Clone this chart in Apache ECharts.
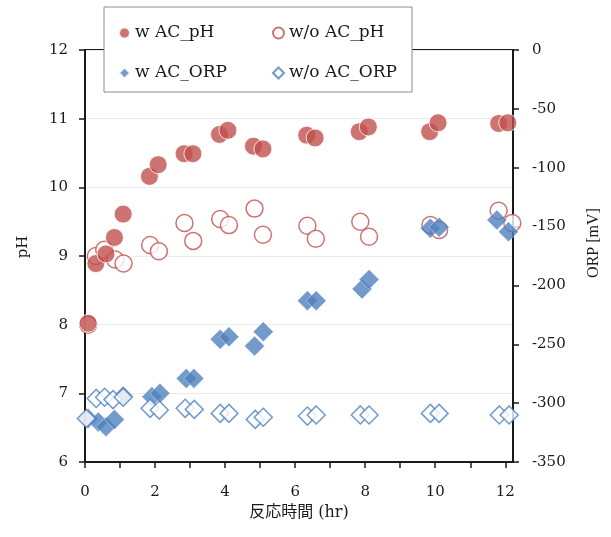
<!DOCTYPE html>
<html>
<head>
<meta charset="utf-8">
<script src="https://cdn.jsdelivr.net/npm/echarts@6/dist/echarts.min.js"></script>
<style>
  html, body { margin: 0; padding: 0; background: #fff; }
  #chart { width: 611px; height: 537px; }
</style>
</head>
<body>
<div id="chart"></div>
<script>
const timeWpH = [0.09, 0.31, 0.6, 0.84, 1.09, 1.84, 2.09, 2.83, 3.08, 3.84, 4.08, 4.81, 5.08, 6.33, 6.57, 7.83, 8.09, 9.84, 10.08, 11.81, 12.07];
const phW = [8.02, 8.89, 9.03, 9.27, 9.61, 10.16, 10.33, 10.49, 10.49, 10.77, 10.83, 10.6, 10.56, 10.76, 10.72, 10.81, 10.88, 10.81, 10.94, 10.93, 10.94];

const timeWopH = [0.09, 0.31, 0.55, 0.86, 1.1, 1.86, 2.11, 2.84, 3.09, 3.86, 4.11, 4.84, 5.08, 6.35, 6.59, 7.86, 8.11, 9.86, 10.11, 11.81, 12.2];
const phWo = [8.0, 9.0, 9.09, 8.95, 8.89, 9.16, 9.07, 9.48, 9.22, 9.54, 9.45, 9.69, 9.31, 9.44, 9.25, 9.5, 9.28, 9.45, 9.38, 9.66, 9.48];

const timeWORP = [0.09, 0.38, 0.6, 0.84, 1.09, 1.91, 2.14, 2.89, 3.11, 3.86, 4.11, 4.84, 5.09, 6.35, 6.6, 7.91, 8.11, 9.86, 10.11, 11.76, 12.09];
const orpW = [-313, -316, -320, -314, -294, -294.5, -291.7, -279, -279, -245.8, -243.6, -251.5, -239.3, -213, -213, -203, -195, -151.5, -150.6, -144.4, -154.4];

const timeWoORP = [0.04, 0.32, 0.56, 0.8, 1.09, 1.86, 2.12, 2.86, 3.12, 3.86, 4.11, 4.86, 5.09, 6.35, 6.6, 7.86, 8.11, 9.86, 10.11, 11.83, 12.11];
const orpWo = [-313, -296, -295, -297, -295, -304.4, -305.9, -304.4, -305.3, -308.7, -308.7, -313.8, -312, -311, -310, -310, -310, -308.7, -308.7, -310, -310];

const xTicks = [0, 1, 2, 3, 4, 5, 6, 7, 8, 9, 10, 11, 12];
const xLabels = [0, 2, 4, 6, 8, 10, 12];
const seriesNames = ["w AC_pH", "w/o AC_pH", "w AC_ORP", "w/o AC_ORP"];

const RED = "#C0504D";
const BLUE = "#4F81BD";
const FONT = "DejaVu Serif";

const zip = (xs, ys) => xs.map((x, i) => [x, ys[i]]);

const myChart = echarts.init(document.getElementById("chart"));
const option = {
  animation: false,
  backgroundColor: "#fff",
  textStyle: { fontFamily: FONT, color: "#1a1a1a" },
  grid: {
    left: 85, right: 98, top: 50, bottom: 75,
    show: true, borderColor: "#1a1a1a", borderWidth: 2
  },
  legend: {
    data: seriesNames,
    left: 104, top: 7,
    width: 292,
    padding: [15, 4, 8, 14],
    itemGap: 18,
    itemWidth: 11, itemHeight: 11,
    backgroundColor: "#fff",
    borderColor: "#8c8c8c", borderWidth: 1,
    textStyle: { fontFamily: FONT, fontSize: 17, color: "#1a1a1a", width: 119, height: 22, lineHeight: 22 }
  },
  xAxis: {
    type: "value",
    min: 0, max: 12.22,
    name: "反応時間 (hr)",
    nameLocation: "middle",
    nameGap: 40,
    nameTextStyle: { fontFamily: FONT + ", Noto Sans CJK JP", fontSize: 16, color: "#1a1a1a" },
    axisLine: { onZero: false, lineStyle: { color: "#1a1a1a", width: 2 } },
    axisTick: { show: true, length: 6, customValues: xTicks, lineStyle: { color: "#1a1a1a", width: 1.5 } },
    axisLabel: { customValues: xLabels, margin: 23, fontSize: 15, color: "#1a1a1a", fontFamily: FONT },
    splitLine: { show: false }
  },
  yAxis: [
    {
      type: "value",
      min: 6, max: 12, interval: 1,
      name: "pH",
      nameLocation: "middle",
      nameGap: 54,
      nameTextStyle: { fontFamily: FONT, fontSize: 15, color: "#1a1a1a", padding: [0, 0, 0, 18] },
      axisLine: { show: true, lineStyle: { color: "#1a1a1a", width: 2 } },
      axisTick: { show: true, length: 6, lineStyle: { color: "#1a1a1a", width: 1.5 } },
      axisLabel: { margin: 17, fontSize: 15, color: "#1a1a1a", fontFamily: FONT },
      splitLine: { show: true, lineStyle: { color: "#ebebeb", width: 1 } }
    },
    {
      type: "value",
      min: -350, max: 0, interval: 50,
      name: "ORP [mV]",
      nameLocation: "middle",
      nameGap: 73,
      nameTextStyle: { fontFamily: "Liberation Serif", fontSize: 16, color: "#1a1a1a", padding: [0, 0, 0, 26] },
      axisLine: { show: true, lineStyle: { color: "#1a1a1a", width: 2 } },
      axisTick: { show: true, length: 6, lineStyle: { color: "#1a1a1a", width: 1.5 } },
      axisLabel: { margin: 19, fontSize: 15, color: "#1a1a1a", fontFamily: FONT },
      splitLine: { show: false }
    }
  ],
  series: [
    {
      // 白抜きは塗りつぶしの下に描く
      name: "w/o AC_pH",
      type: "scatter",
      clip: false,
      yAxisIndex: 0,
      symbol: "circle",
      symbolSize: 17,
      itemStyle: { color: "#fff", borderColor: RED, borderWidth: 1.5 },
      data: zip(timeWopH, phWo)
    },
    {
      name: "w AC_pH",
      type: "scatter",
      clip: false,
      yAxisIndex: 0,
      symbol: "circle",
      symbolSize: 18,
      itemStyle: { color: RED, borderColor: "#fff", borderWidth: 1 },
      data: zip(timeWpH, phW)
    },
    {
      name: "w AC_ORP",
      type: "scatter",
      clip: false,
      yAxisIndex: 1,
      symbol: "diamond",
      symbolSize: 20,
      itemStyle: { color: BLUE, borderColor: "#fff", borderWidth: 0.5 },
      data: zip(timeWORP, orpW)
    },
    {
      name: "w/o AC_ORP",
      type: "scatter",
      clip: false,
      yAxisIndex: 1,
      symbol: "diamond",
      symbolSize: 18,
      itemStyle: { color: "#fff", borderColor: BLUE, borderWidth: 1.5 },
      data: zip(timeWoORP, orpWo)
    }
  ]
};
myChart.setOption(option);
</script>
</body>
</html>
